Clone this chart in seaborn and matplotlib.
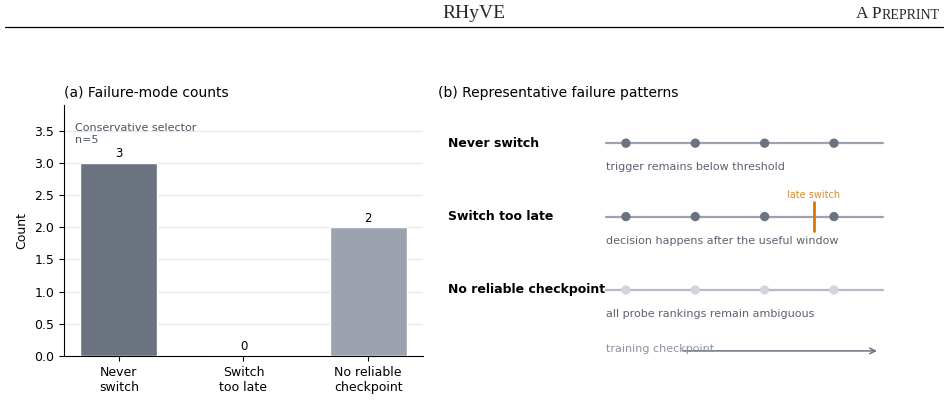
import matplotlib
matplotlib.use("Agg")
import matplotlib.pyplot as plt
from matplotlib.lines import Line2D
import seaborn as sns

# Data
categories = ["Never\nswitch", "Switch\ntoo late", "No reliable\ncheckpoint"]
counts = [3, 0, 2]
selector_note = "Conservative selector\nn=5"

patterns = ["Never switch", "Switch too late", "No reliable checkpoint"]
pattern_notes = [
    "trigger remains below threshold",
    "decision happens after the useful window",
    "all probe rankings remain ambiguous",
]
checkpoints = [1, 2, 3, 4]
late_switch_at = 3.71

sns.set_style("ticks")
plt.rcParams["font.family"] = ["DejaVu Sans"]

fig = plt.figure(figsize=(9.48, 4.0), dpi=100)

# (a) failure-mode counts
ax_a = fig.add_axes([64 / 948, 44 / 400, 359 / 948, 251 / 400])
bar_colors = ["#6b7280", "#6b7280", "#9ca3af"]
sns.barplot(x=categories, y=counts, hue=categories, palette=bar_colors,
            legend=False, width=0.62, saturation=1, ax=ax_a, zorder=3)
for cont in ax_a.containers:
    ax_a.bar_label(cont, fmt="%d", padding=2, fontsize=8.5, color="black")
ax_a.set_ylim(0, 3.9)
ax_a.set_xlim(-0.44, 2.44)
ax_a.set_yticks([0, 0.5, 1.0, 1.5, 2.0, 2.5, 3.0, 3.5])
ax_a.yaxis.grid(True, color="#e5e7eb", lw=0.8, zorder=0)
ax_a.set_axisbelow(True)
ax_a.tick_params(labelsize=9, colors="black")
ax_a.set_ylabel("Count", fontsize=9, color="black")
ax_a.set_xlabel("")
ax_a.set_title("(a) Failure-mode counts", loc="left", fontsize=10, color="black")
ax_a.text(0.03, 0.93, selector_note, transform=ax_a.transAxes, ha="left",
          va="top", fontsize=8, color="#4b5563", linespacing=1.3)
sns.despine(ax=ax_a)
for s in ("left", "bottom"):
    ax_a.spines[s].set_color("black")

# page header
fig.text(474 / 948, 1 - 13 / 400, "RHyVE", ha="center", va="center",
         family="Liberation Serif", fontsize=14)
rep = fig.text(940 / 948, 1 - 19 / 400, "REPRINT", ha="right", va="baseline",
               family="Liberation Serif", fontsize=10)
ax_a.annotate("A P", xy=(0, 0), xycoords=rep, ha="right", va="bottom",
              family="Liberation Serif", fontsize=12.5, annotation_clip=False)
fig.add_artist(Line2D([5 / 948, 943 / 948], [1 - 27 / 400] * 2,
                      color="black", lw=0.9, transform=fig.transFigure))

# (b) representative failure patterns
ax_b = fig.add_axes([438 / 948, 30 / 400, 500 / 948, 265 / 400])
ax_b.set_xlim(-1.71, 5.5)
ax_b.set_ylim(-0.09, 3.52)
ax_b.axis("off")
ax_b.set_title("(b) Representative failure patterns", loc="left", fontsize=10,
               color="black")

row_y = [3, 2, 1]
track_colors = ["#9ca3af", "#9ca3af", "#b4bac4"]
dot_colors = ["#6b7280", "#6b7280", "#d1d5db"]
for name, note, y, tc, dc in zip(patterns, pattern_notes, row_y, track_colors, dot_colors):
    ax_b.plot([0.71, 4.70], [y, y], color=tc, lw=1.6, zorder=1)
    sns.scatterplot(x=checkpoints, y=[y] * len(checkpoints), color=dc, s=45,
                    edgecolor="none", ax=ax_b, zorder=2)
    ax_b.text(-1.56, y, name, ha="left", va="center", fontsize=9,
              fontweight="bold", color="black")
    ax_b.text(0.71, y - 0.33, note, ha="left", va="center", fontsize=8,
              color="#5b6270")

# late switch marker
ax_b.plot([late_switch_at, late_switch_at], [2 - 0.2, 2 + 0.2],
          color="#d97706", lw=2, zorder=3)
ax_b.text(late_switch_at, 2.29, "late switch", ha="center", va="center",
          fontsize=7, color="#d97706", alpha=0.85)

# checkpoint axis arrow
ax_b.annotate("", xy=(4.66, 0.17), xytext=(1.78, 0.17),
              arrowprops=dict(arrowstyle="->", color="#6b7280", lw=1.1))
ax_b.text(0.71, 0.2, "training checkpoint", ha="left", va="center",
          fontsize=8, color="#8b919c")

fig.savefig("out.png", dpi=100)
